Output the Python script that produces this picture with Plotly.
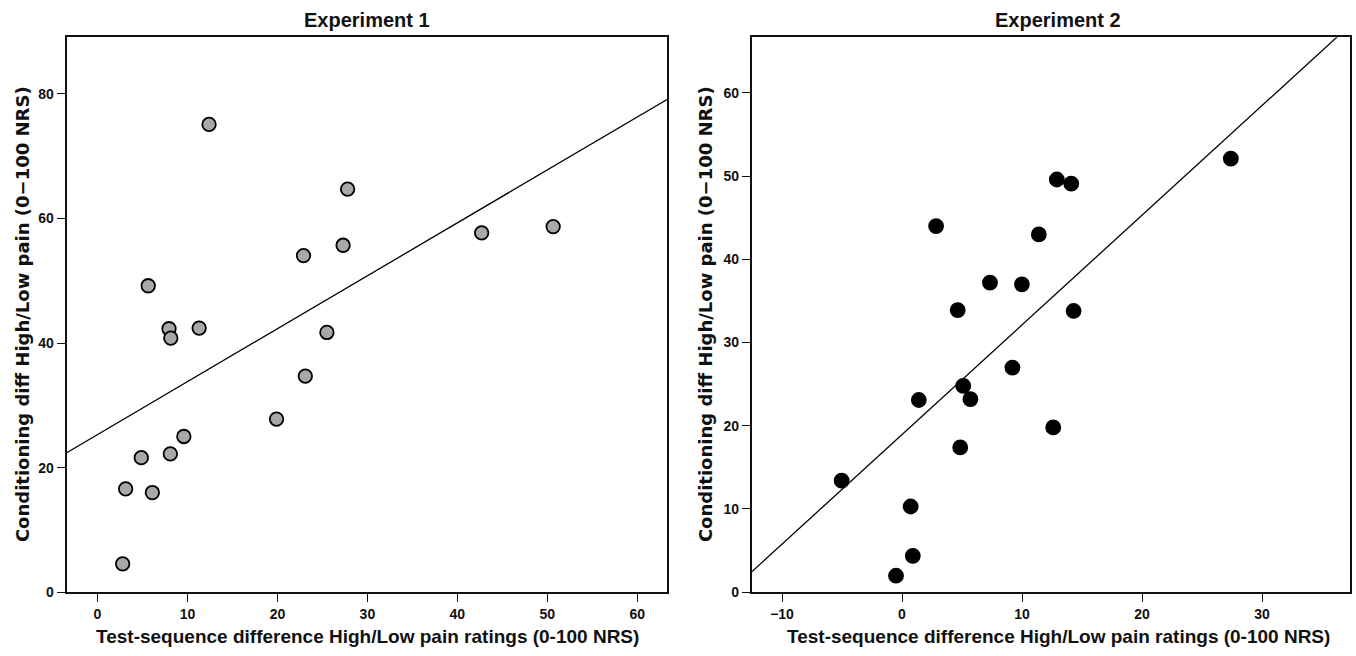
import plotly.graph_objects as go

# Experiment 1 data
exp1_x = [12.4, 27.8, 22.9, 27.3, 42.7, 50.65, 5.64, 7.95, 11.3, 8.15, 25.5,
          23.1, 19.9, 9.6, 4.87, 8.1, 3.13, 6.1, 2.8]
exp1_y = [75.1, 64.7, 54.05, 55.7, 57.7, 58.7, 49.2, 42.3, 42.4, 40.8, 41.7,
          34.7, 27.8, 25.0, 21.6, 22.2, 16.6, 16.0, 4.55]
exp1_fit = [25.3, 0.85]   # intercept, slope of drawn fit line

# Experiment 2 data
exp2_x = [27.4, 12.9, 14.1, 2.84, 11.4, 7.33, 9.99, 4.64, 14.3, 9.2, 5.1,
          1.4, 5.7, 12.6, 4.85, -5.03, 0.72, 0.9, -0.5]
exp2_y = [52.1, 49.6, 49.1, 44.0, 43.0, 37.2, 37.0, 33.9, 33.8, 27.0, 24.8,
          23.1, 23.2, 19.8, 17.4, 13.4, 10.3, 4.37, 1.98]
exp2_fit = [18.95, 1.318]

titles = ["Experiment 1", "Experiment 2"]
x_title = "Test-sequence difference High/Low pain ratings (0-100 NRS)"
y_title = "Conditioning diff High/Low pain (0\u2212100 NRS)"

x1_range = [-3.42, 63.3]
y1_range = [0, 89.1]
x2_range = [-12.5, 37.33]
y2_range = [0, 66.7]

narrow = "Liberation Sans Narrow, Arial Narrow, sans-serif"
wide = "DejaVu Sans, Verdana, sans-serif"

fig = go.Figure()

def add_panel(xs, ys, fit, xr, fill, size, xa, ya):
    lx = list(xr)
    ly = [fit[0] + fit[1] * v for v in lx]
    fig.add_trace(go.Scatter(x=lx, y=ly, mode="lines",
                             line=dict(color="black", width=1.3),
                             xaxis=xa, yaxis=ya, showlegend=False, hoverinfo="skip"))
    fig.add_trace(go.Scatter(x=xs, y=ys, mode="markers",
                             marker=dict(size=size, color=fill,
                                         line=dict(color="black", width=1.8)),
                             xaxis=xa, yaxis=ya, showlegend=False, cliponaxis=False))

add_panel(exp1_x, exp1_y, exp1_fit, x1_range, "#a8a8a8", 13.5, "x", "y")
add_panel(exp2_x, exp2_y, exp2_fit, x2_range, "black", 14, "x2", "y2")

W, H = 1356, 656
d1 = [66.7 / W, 667 / W]
d2 = [752 / W, 1350 / W]
yd = [1 - 599.5 / H, 1 - 37.7 / H]

axis_common = dict(showline=True, linecolor="#111111", linewidth=2.2, mirror=True,
                   ticks="outside", ticklen=8, tickwidth=1.3, tickcolor="#111111",
                   showgrid=False, zeroline=False,
                   tickfont=dict(family="Liberation Sans, Arial, sans-serif", size=14,
                                 color="#111111", weight="bold"))

fig.update_layout(
    width=W, height=H,
    margin=dict(l=0, r=0, t=0, b=0),
    paper_bgcolor="white", plot_bgcolor="white",
    xaxis=dict(domain=d1, range=x1_range, tick0=0, dtick=10, anchor="y", **axis_common),
    yaxis=dict(domain=yd, range=y1_range, tick0=0, dtick=20, anchor="x", **axis_common),
    xaxis2=dict(domain=d2, range=x2_range, tick0=0, dtick=10, anchor="y2", **axis_common),
    yaxis2=dict(domain=yd, range=y2_range, tick0=0, dtick=10, anchor="x2", **axis_common),
)

annotations = []
for cx_pix, t in zip([367, 1058], titles):
    cx = cx_pix / W
    annotations.append(dict(text="<b>" + t + "</b>", x=cx, y=1 - 20 / H, xref="paper", yref="paper",
                            showarrow=False, font=dict(family=narrow, size=20, color="#111111"),
                            xanchor="center", yanchor="middle"))
    annotations.append(dict(text="<b>" + x_title + "</b>", x=cx, y=1 - 644 / H, xref="paper", yref="paper",
                            showarrow=False, font=dict(family=narrow, size=19, color="#111111"),
                            xanchor="center", yanchor="middle"))
for xpix in [22, 705]:
    annotations.append(dict(text="<b>" + y_title + "</b>", x=xpix / W, y=1 - 318 / H,
                            xref="paper", yref="paper", textangle=-90,
                            showarrow=False, font=dict(family=wide, size=18, color="#111111"),
                            xanchor="center", yanchor="middle"))
fig.update_layout(annotations=annotations)

fig.write_html("out.html", config={"displayModeBar": False},
               post_script="document.body.style.margin='0';document.body.style.overflow='hidden';")
